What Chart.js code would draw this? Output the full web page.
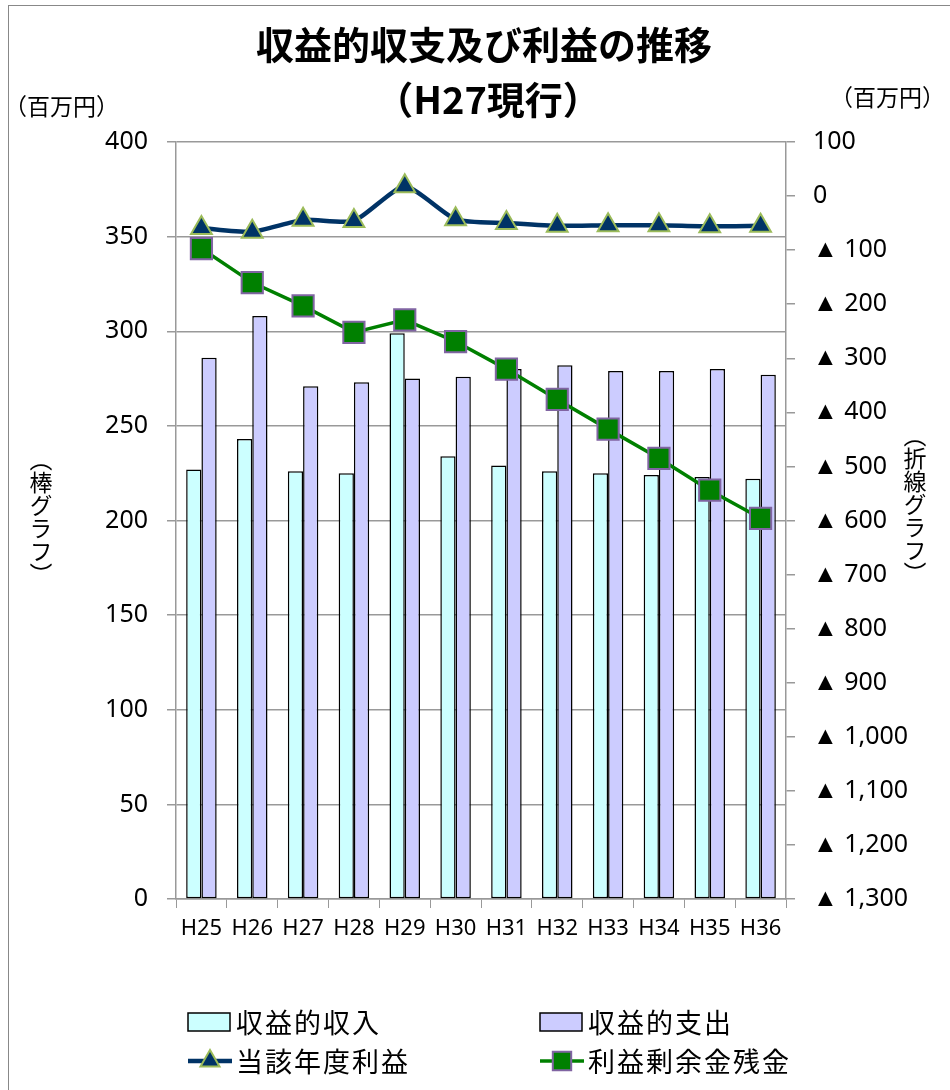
<!DOCTYPE html>
<html>
<head>
<meta charset="utf-8">
<script src="https://cdn.jsdelivr.net/npm/chart.js@4"></script>
<style>
  body { margin: 0; background: #fff; }
  #wrap { position: relative; width: 950px; height: 1090px; overflow: hidden; }
  #frame { position: absolute; left: 8px; top: 5px; width: 960px; height: 1100px; border: 1.5px solid #888; box-sizing: border-box; }
  canvas { position: absolute; left: 0; top: 0; }
  .vlabel { position: absolute; writing-mode: vertical-rl; font-family: "Noto Sans CJK JP", sans-serif; font-size: 23px; color: #000; line-height: 1; }
</style>
</head>
<body>
<div id="wrap">
  <div id="frame"></div>
  <canvas id="chart" width="950" height="1090"></canvas>
  <div class="vlabel" style="left:29px; top:448px;">（棒グラフ）</div>
  <div class="vlabel" style="left:903px; top:424px;">（折線グラフ）</div>
</div>
<script>
const years = ['H25', 'H26', 'H27', 'H28', 'H29', 'H30', 'H31', 'H32', 'H33', 'H34', 'H35', 'H36'];
const income = [227, 243, 226, 225, 299, 234, 229, 226, 225, 224, 223, 222];      // 収益的収入
const expense = [286, 308, 271, 273, 275, 276, 280, 282, 279, 279, 280, 277];     // 収益的支出
const profit = [-59, -66, -44, -46, 18, -43, -50, -55, -54, -54, -56, -55];        // 当該年度利益
const surplus = [-97, -160, -203, -252, -229, -269, -320, -376, -431, -485, -544, -596]; // 利益剰余金残金

const jpFont = '"Noto Sans CJK JP", sans-serif';
const numFont = '"Noto Sans", sans-serif';
const gridGray = '#999';

// titles, unit labels and the 2x2 legend
const decorations = {
    id: 'decorations',
    afterDraw(chart) {
        const ctx = chart.ctx;
        ctx.save();
        ctx.fillStyle = '#000';
        ctx.textBaseline = 'middle';

        ctx.textAlign = 'center';
        ctx.font = 'bold 38px ' + jpFont;
        ctx.fillText('収益的収支及び利益の推移', 484, 45);
        ctx.fillText('（H27現行）', 488, 100);

        ctx.textAlign = 'left';
        ctx.font = '23px ' + jpFont;
        ctx.fillText('（百万円）', 4, 106);
        ctx.fillText('（百万円）', 830, 97);

        // legend
        const ds = chart.data.datasets;
        const items = [
            { d: ds[0], x: 188, y: 1022, kind: 'box' },
            { d: ds[1], x: 540, y: 1022, kind: 'box' },
            { d: ds[2], x: 188, y: 1061, kind: 'line' },
            { d: ds[3], x: 540, y: 1061, kind: 'line' }
        ];
        ctx.font = '27px ' + jpFont;
        ctx.letterSpacing = '2px';
        items.forEach(it => {
            if (it.kind === 'box') {
                ctx.fillStyle = it.d.backgroundColor;
                ctx.fillRect(it.x, it.y - 9, 42, 18);
                ctx.strokeStyle = '#000';
                ctx.lineWidth = 1.5;
                ctx.strokeRect(it.x, it.y - 9, 42, 18);
            } else {
                ctx.strokeStyle = it.d.borderColor;
                ctx.lineWidth = it.d.borderWidth;
                ctx.beginPath();
                ctx.moveTo(it.x, it.y);
                ctx.lineTo(it.x + 44, it.y);
                ctx.stroke();
                ctx.fillStyle = it.d.pointBackgroundColor;
                ctx.strokeStyle = it.d.pointBorderColor;
                ctx.lineWidth = it.d.pointBorderWidth;
                Chart.helpers.drawPoint(ctx, {
                    pointStyle: it.d.pointStyle,
                    radius: it.d.pointStyle === 'triangle' ? 11 : 13,
                    rotation: 0,
                    borderWidth: it.d.pointBorderWidth
                }, it.x + 22, it.y);
            }
            ctx.fillStyle = '#000';
            ctx.fillText(it.d.label, it.x + 48, it.y + 1);
        });
        ctx.restore();
    }
};

new Chart(document.getElementById('chart'), {
    type: 'bar',
    data: {
        labels: years,
        datasets: [
            {
                label: '収益的収入',
                data: income,
                backgroundColor: '#CCFFFF',
                borderColor: '#000',
                borderWidth: 1.5,
                borderSkipped: false,
                yAxisID: 'y',
                order: 2
            },
            {
                label: '収益的支出',
                data: expense,
                backgroundColor: '#CCCCFF',
                borderColor: '#000',
                borderWidth: 1.5,
                borderSkipped: false,
                yAxisID: 'y',
                order: 2
            },
            {
                type: 'line',
                label: '当該年度利益',
                data: profit,
                borderColor: '#003366',
                borderWidth: 4.5,
                tension: 0.2,
                pointStyle: 'triangle',
                pointRadius: 12,
                pointBackgroundColor: '#003366',
                pointBorderColor: '#9BBB59',
                pointBorderWidth: 2,
                yAxisID: 'y2',
                order: 0,
                clip: false
            },
            {
                type: 'line',
                label: '利益剰余金残金',
                data: surplus,
                borderColor: '#008000',
                borderWidth: 3.5,
                tension: 0,
                pointStyle: 'rect',
                pointRadius: 15,
                pointBackgroundColor: '#008000',
                pointBorderColor: '#8064A2',
                pointBorderWidth: 2,
                yAxisID: 'y2',
                order: 1,
                clip: false
            }
        ]
    },
    options: {
        responsive: false,
        animation: false,
        devicePixelRatio: 1,
        layout: { padding: { top: 142, left: 0, right: 0, bottom: 0 } },
        datasets: { bar: { categoryPercentage: 0.6, barPercentage: 1.0 } },
        plugins: { legend: { display: false }, tooltip: { enabled: false } },
        scales: {
            x: {
                offset: true,
                grid: { offset: true, drawOnChartArea: false, color: gridGray, tickLength: 9 },
                border: { color: gridGray, width: 1.5 },
                ticks: { color: '#000', font: { family: numFont, size: 22 }, padding: 8, maxRotation: 0 },
                afterFit: s => { s.height = 191; }
            },
            y: {
                position: 'left',
                min: 0,
                max: 400,
                ticks: { stepSize: 50, color: '#000', font: { family: numFont, size: 25 }, padding: 19 },
                grid: { color: gridGray, lineWidth: 1.5, tickLength: 9 },
                border: { color: gridGray, width: 1.5 },
                afterFit: s => { s.width = 176; }
            },
            y2: {
                position: 'right',
                min: -1300,
                max: 100,
                ticks: {
                    stepSize: 100,
                    color: '#000',
                    font: { family: numFont, size: 25 },
                    padding: 18,
                    callback: v => v < 0 ? '▲ ' + Math.abs(v).toLocaleString('en-US') : String(v)
                },
                grid: { drawOnChartArea: false, color: gridGray, lineWidth: 1.5, tickLength: 9 },
                border: { color: gridGray, width: 1.5 },
                afterFit: s => { s.width = 164; }
            }
        }
    },
    plugins: [decorations]
});
</script>
</body>
</html>
